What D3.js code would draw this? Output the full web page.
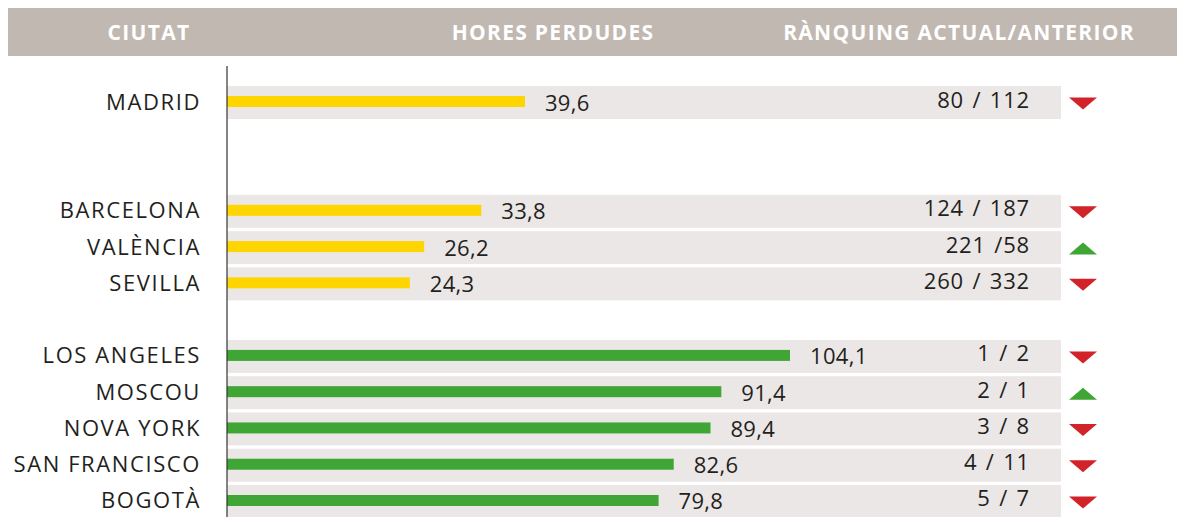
<!DOCTYPE html>
<html>
<head>
<meta charset="utf-8">
<script src="https://cdn.jsdelivr.net/npm/d3@7"></script>
<style>
  html, body { margin: 0; padding: 0; background: #fff; }
  svg { display: block; }
</style>
</head>
<body>
<svg id="chart" width="1181" height="517"></svg>
<script>
// ---- data ----
const headers = ["CIUTAT", "HORES PERDUDES", "RÀNQUING ACTUAL/ANTERIOR"];
const cities = ["MADRID", "BARCELONA", "VALÈNCIA", "SEVILLA", "LOS ANGELES", "MOSCOU", "NOVA YORK", "SAN FRANCISCO", "BOGOTÀ"];
const groups = ["es", "es", "es", "es", "world", "world", "world", "world", "world"];
const slots = [0, 3, 4, 5, 7, 8, 9, 10, 11];
const hours = [39.6, 33.8, 26.2, 24.3, 104.1, 91.4, 89.4, 82.6, 79.8];
const hourLabels = ["39,6", "33,8", "26,2", "24,3", "104,1", "91,4", "89,4", "82,6", "79,8"];
const rankLabels = ["80 / 112", "124 / 187", "221 /58", "260 / 332", "1 / 2", "2 / 1", "3 / 8", "4 / 11", "5 / 7"];
const trend = ["down", "down", "up", "down", "down", "up", "down", "down", "down"];

const rows = cities.map((c, i) => ({
  city: c, group: groups[i], slot: slots[i], value: hours[i],
  label: hourLabels[i], rank: rankLabels[i], trend: trend[i]
}));

// ---- layout ----
const svg = d3.select("#chart");
const font = "'Open Sans', 'DejaVu Sans', sans-serif";
const axisX = 227;

const y = d3.scaleBand()
  .domain(d3.range(12))
  .range([86, 518])
  .paddingInner(0.09)
  .paddingOuter(0.0);

const xScales = {
  es: d3.scaleLinear().domain([0, 40]).range([axisX, axisX + 301]),
  world: d3.scaleLinear().domain([0, 104.1]).range([axisX, 790])
};
const colors = { es: "#ffd500", world: "#3fa535" };

// header
svg.append("rect").attr("x", 8).attr("y", 8).attr("width", 1169).attr("height", 48).attr("fill", "#c1b8b2");
const headerX = [149, 553, 959];
svg.selectAll("text.hdr").data(headers).join("text")
  .attr("class", "hdr")
  .attr("x", (d, i) => headerX[i]).attr("y", 40)
  .attr("text-anchor", "middle")
  .attr("fill", "#fff")
  .attr("font-family", font).attr("font-weight", 700).attr("font-size", 21)
  .attr("letter-spacing", 1.3)
  .text(d => d);

const g = svg.append("g");
const row = g.selectAll("g.row").data(rows).join("g").attr("class", "row");

// row backgrounds
row.append("rect")
  .attr("x", axisX).attr("width", 1061 - axisX)
  .attr("y", d => y(d.slot)).attr("height", y.bandwidth())
  .attr("fill", "#ebe7e6");

// bars
const barH = 11;
row.append("rect")
  .attr("x", axisX)
  .attr("y", d => y(d.slot) + y.bandwidth() / 2 - barH / 2 - 1)
  .attr("height", barH)
  .attr("width", d => xScales[d.group](d.value) - axisX)
  .attr("fill", d => colors[d.group]);

const textFill = "#231f20";
// value labels
row.append("text")
  .attr("x", d => xScales[d.group](d.value) + 20)
  .attr("y", d => y(d.slot) + y.bandwidth() / 2 + 8)
  .attr("font-family", font).attr("font-size", 22).attr("fill", textFill)
  .attr("letter-spacing", 0.3)
  .text(d => d.label);

// city labels
row.append("text")
  .attr("x", 201).attr("text-anchor", "end")
  .attr("y", d => y(d.slot) + y.bandwidth() / 2 + 7)
  .attr("font-family", font).attr("font-size", 22).attr("fill", textFill)
  .attr("letter-spacing", 1.6)
  .text(d => d.city);

// rank labels
row.append("text")
  .attr("x", 1030).attr("text-anchor", "end")
  .attr("y", d => y(d.slot) + y.bandwidth() / 2 + 5)
  .attr("font-family", font).attr("font-size", 22).attr("fill", textFill)
  .attr("letter-spacing", 0.8)
  .attr("word-spacing", 2)
  .text(d => d.rank);

// trend triangles
const triX = 1083, triW = 28, triH = 12;
row.append("path")
  .attr("d", d => {
    const cy = y(d.slot) + y.bandwidth() / 2 + 1;
    if (d.trend === "down") {
      return `M${triX - triW / 2},${cy - triH / 2}L${triX + triW / 2},${cy - triH / 2}L${triX},${cy + triH / 2}Z`;
    }
    return `M${triX - triW / 2},${cy + triH / 2}L${triX + triW / 2},${cy + triH / 2}L${triX},${cy - triH / 2}Z`;
  })
  .attr("fill", d => d.trend === "down" ? "#d2232a" : "#3fa535");

// axis line
svg.append("line")
  .attr("x1", axisX).attr("x2", axisX)
  .attr("y1", 66).attr("y2", 517)
  .attr("stroke", "#333").attr("stroke-width", 1.2);
</script>
</body>
</html>
